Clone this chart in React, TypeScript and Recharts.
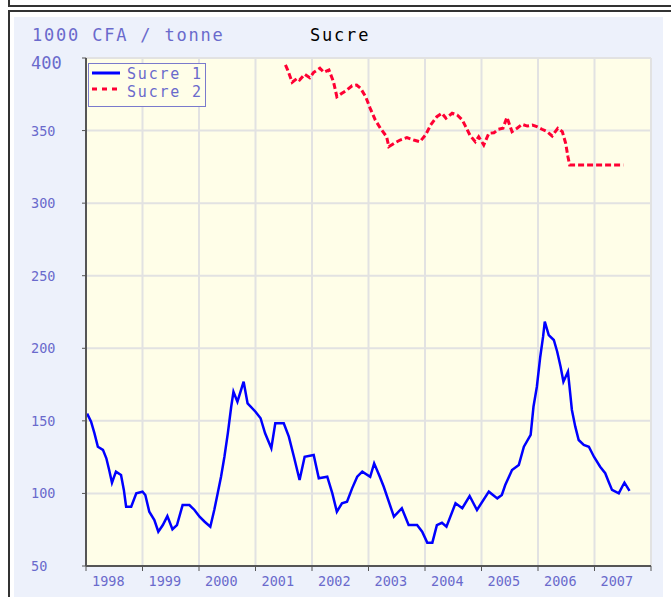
import React from 'react';
import { LineChart, Line, XAxis, YAxis, CartesianGrid, Legend } from 'recharts';

// Sucre 1 (fractional years)
const sucre1Years = [
  1998.02, 1998.09, 1998.15, 1998.21, 1998.3, 1998.36, 1998.41, 1998.46, 1998.53, 1998.62,
  1998.67, 1998.71, 1998.8, 1998.89, 1999.0, 1999.05, 1999.12, 1999.21, 1999.28, 1999.36,
  1999.44, 1999.53, 1999.61, 1999.71, 1999.83, 1999.92, 2000.01, 2000.1, 2000.2, 2000.27,
  2000.33, 2000.39, 2000.45, 2000.51, 2000.57, 2000.61, 2000.68, 2000.79, 2000.86, 2001.0,
  2001.09, 2001.17, 2001.28, 2001.35, 2001.5, 2001.59, 2001.68, 2001.78, 2001.87, 2002.03,
  2002.12, 2002.27, 2002.36, 2002.44, 2002.53, 2002.62, 2002.71, 2002.8, 2002.89, 2003.03,
  2003.1, 2003.2, 2003.27, 2003.45, 2003.59, 2003.71, 2003.86, 2003.95, 2004.04, 2004.13,
  2004.21, 2004.3, 2004.38, 2004.54, 2004.66, 2004.79, 2004.92, 2005.13, 2005.28, 2005.36,
  2005.42, 2005.54, 2005.66, 2005.75, 2005.87, 2005.92, 2005.98, 2006.04, 2006.09, 2006.12,
  2006.19, 2006.28, 2006.34, 2006.4, 2006.45, 2006.53, 2006.57, 2006.6, 2006.66, 2006.72,
  2006.81, 2006.9, 2006.99, 2007.1, 2007.19, 2007.25, 2007.31, 2007.43, 2007.49, 2007.53,
  2007.62,
];
const sucre1Values = [
  155, 149.4, 141.4, 132.2, 130, 124.2, 116.1, 107.4, 115, 112.7,
  102.4, 90.9, 90.9, 100.1, 101.2, 98.9, 87.4, 81.7, 73.6, 78.2,
  84.4, 75.3, 78.2, 92, 92, 88.6, 84, 80.5, 77.1, 88.6,
  100, 111.5, 125.3, 141.4, 159.7, 170, 163.2, 177, 162, 156.3,
  151.8, 141.4, 131.1, 148.3, 148.3, 139.1, 125.3, 109.2, 125.3, 126.5,
  110.4, 111.5, 100, 87.4, 93.2, 94.3, 103.5, 111.5, 115, 111.5,
  120.7, 111.5, 104.6, 84, 89.8, 78.2, 78.2, 73.6, 66.1, 66.1,
  78.2, 79.8, 77.1, 93.2, 89.8, 98.2, 88.6, 101.2, 96.6, 98.9,
  105.8, 116.1, 119.6, 132.2, 140.3, 159.7, 173.5, 194.2, 208, 218.3,
  209.1, 205.7, 197.6, 187.3, 177, 183.9, 168.9, 157.5, 146, 136.8,
  133.4, 132.2, 125.3, 118.4, 113.9, 108.1, 102.4, 100, 104.6, 107.4,
  101.8,
];

// Sucre 2
const sucre2Years = [
  2001.53, 2001.57, 2001.65, 2001.74, 2001.78, 2001.87, 2001.96, 2002.03, 2002.14, 2002.21,
  2002.3, 2002.38, 2002.44, 2002.53, 2002.62, 2002.71, 2002.79, 2002.86, 2002.95, 2003.03,
  2003.12, 2003.21, 2003.32, 2003.36, 2003.45, 2003.56, 2003.68, 2003.8, 2003.91, 2004.01,
  2004.1, 2004.21, 2004.3, 2004.37, 2004.48, 2004.57, 2004.66, 2004.72, 2004.8, 2004.89,
  2004.95, 2005.04, 2005.13, 2005.22, 2005.3, 2005.38, 2005.45, 2005.54, 2005.63, 2005.72,
  2005.81, 2005.9, 2005.98, 2006.07, 2006.16, 2006.25, 2006.35, 2006.43, 2006.49, 2006.53,
  2006.56, 2007.51,
];
const sucre2Values = [
  395.2, 391.7, 383.3, 386, 384.8, 388.8, 386.4, 390.1, 392.9, 390.1,
  391.7, 383.7, 373.3, 375.7, 378, 380.9, 381.4, 379.1, 373.3, 365.3,
  357.3, 351.6, 345.8, 338.9, 341.2, 343.5, 345.1, 343.5, 342.3, 347,
  353.8, 359.6, 361.9, 358.5, 361.9, 360.7, 357.3, 352.7, 346.5, 342.3,
  345.8, 340.1, 348.1, 348.5, 350.9, 351.6, 359.1, 349.3, 351.6, 354.3,
  353.1, 353.8, 352.7, 350.9, 349.3, 346.3, 351.6, 349.3, 341.2, 332,
  326.3, 326.3,
];

const yTicks = [50, 100, 150, 200, 250, 300, 350, 400];
const yearTicks = [1998, 1999, 2000, 2001, 2002, 2003, 2004, 2005, 2006, 2007, 2008];

const s1 = sucre1Years.map((t, i) => ({ t, v: sucre1Values[i] }));
const s2 = sucre2Years.map((t, i) => ({ t, v: sucre2Values[i] }));

const MONO = '"DejaVu Sans Mono", monospace';
const AXIS_TXT = '#6a6acc';

const YTick = (props: any) => {
  const { y, payload } = props;
  const big = payload.value === 400;
  return (
    <text
      x={17}
      y={y + (big ? 5 : 0)}
      dy={big ? 6 : 5}
      textAnchor="start"
      fill={AXIS_TXT}
      fontFamily={MONO}
      fontSize={big ? 17 : 13.5}
    >
      {payload.value}
    </text>
  );
};

const XTick = (props: any) => {
  const { x, y, payload } = props;
  if (payload.value === 2008) return null;
  return (
    <text x={x + 6} y={y + 13} textAnchor="start" fill={AXIS_TXT} fontFamily={MONO} fontSize={13.5}>
      {payload.value}
    </text>
  );
};

const LegendBox = () => (
  <svg width={118} height={44} style={{ display: 'block' }}>
    <rect x={0.5} y={0.5} width={117} height={43} fill="#fffee8" stroke="#7a7acc" />
    <line x1={4} y1={10} x2={32} y2={10} stroke="#0000ff" strokeWidth={3} />
    <line x1={4} y1={26} x2={30} y2={26} stroke="#ff0033" strokeWidth={3} strokeDasharray="5 5" />
    <text x={39} y={16} fill={AXIS_TXT} fontFamily={MONO} fontSize={15} letterSpacing={1.8}>Sucre 1</text>
    <text x={39} y={34} fill={AXIS_TXT} fontFamily={MONO} fontSize={15} letterSpacing={1.8}>Sucre 2</text>
  </svg>
);

export default function App() {
  return (
    <div style={{ position: 'absolute', left: 0, top: 0, width: 671, height: 597, overflow: 'hidden', background: '#fff' }}>
      {/* bottom of the frame above */}
      <div style={{ position: 'absolute', left: 8, top: -20, width: 700, height: 23, border: '2px solid #333' }} />
      {/* frame of this chart */}
      <div style={{ position: 'absolute', left: 8, top: 10, width: 700, height: 640, border: '2px solid #333' }} />
      <div style={{ position: 'absolute', left: 14, top: 17, width: 649, height: 590, background: '#edf1fb' }} />

      <div style={{ position: 'absolute', left: 32, top: 25, fontFamily: MONO, fontSize: 17, letterSpacing: 1.8, color: AXIS_TXT }}>
        1000 CFA / tonne
      </div>
      <div style={{ position: 'absolute', left: 310, top: 25, fontFamily: MONO, fontSize: 17, letterSpacing: 1.8, color: '#000' }}>
        Sucre
      </div>

      <div style={{ position: 'absolute', left: 14, top: 17 }}>
        <LineChart width={649} height={580} margin={{ top: 41, right: 12, left: 0, bottom: 0 }}>
          <CartesianGrid stroke="#e2e2e2" strokeWidth={2} fill="#fffee8" fillOpacity={1} />
          <XAxis
            dataKey="t"
            type="number"
            domain={[1998, 2008]}
            ticks={yearTicks}
            interval={0}
            height={31}
            tickSize={5}
            tickLine={{ stroke: '#555' }}
            axisLine={{ stroke: '#555', strokeWidth: 2 }}
            tick={<XTick />}
            allowDataOverflow
          />
          <XAxis
            xAxisId="top"
            orientation="top"
            dataKey="t"
            type="number"
            domain={[1998, 2008]}
            height={0}
            tick={false}
            tickLine={false}
            axisLine={{ stroke: '#999', strokeWidth: 2 }}
          />
          <YAxis
            type="number"
            domain={[50, 400]}
            ticks={yTicks}
            interval={0}
            width={72}
            tickSize={4}
            tickLine={{ stroke: '#555' }}
            axisLine={{ stroke: '#555', strokeWidth: 2 }}
            tick={<YTick />}
            allowDataOverflow
          />
          <YAxis
            yAxisId="right"
            orientation="right"
            type="number"
            domain={[50, 400]}
            width={0}
            tick={false}
            tickLine={false}
            axisLine={{ stroke: '#999', strokeWidth: 2 }}
          />
          <Legend
            layout="vertical"
            align="center"
            verticalAlign="middle"
            content={() => <LegendBox />}
            wrapperStyle={{ left: 74, top: 46, width: 118, height: 44 }}
          />
          <Line
            data={s1}
            dataKey="v"
            name="Sucre 1"
            type="linear"
            stroke="#0000ff"
            strokeWidth={2.5}
            dot={false}
            isAnimationActive={false}
          />
          <Line
            data={s2}
            dataKey="v"
            name="Sucre 2"
            type="linear"
            stroke="#ff0033"
            strokeWidth={3}
            strokeDasharray="6 3"
            dot={false}
            isAnimationActive={false}
          />
        </LineChart>
      </div>
    </div>
  );
}
